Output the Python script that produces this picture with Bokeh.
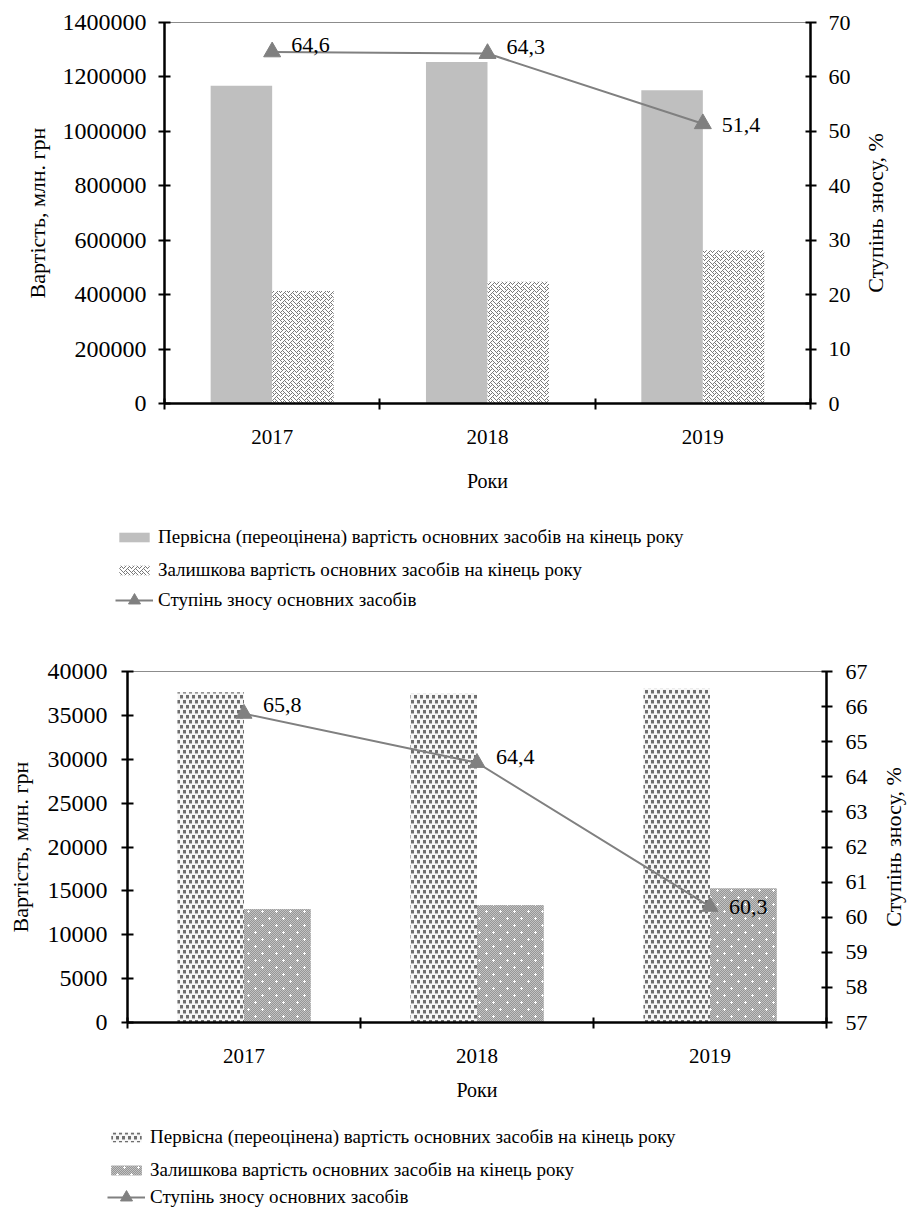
import base64
import math

from bokeh.core.properties import value
from bokeh.embed import file_html
from bokeh.models import (ColumnDataSource, FixedTicker, ImageURLTexture, Label, Legend,
                          LegendItem, LinearAxis, NumeralTickFormatter, Range1d)
from bokeh.plotting import figure
from bokeh.resources import INLINE
from bokeh.transform import dodge

# ---------------------------------------------------------------- data
YEARS = ["2017", "2018", "2019"]

# chart 1
GROSS_1 = [1168000, 1255000, 1151000]
RESIDUAL_1 = [413000, 447000, 563000]
WEAR_1 = [64.6, 64.3, 51.4]
Y_TICKS_1 = [0, 200000, 400000, 600000, 800000, 1000000, 1200000, 1400000]
Y2_TICKS_1 = [0, 10, 20, 30, 40, 50, 60, 70]

# chart 2
GROSS_2 = [37640, 37460, 38030]
RESIDUAL_2 = [12900, 13360, 15260]
WEAR_2 = [65.8, 64.4, 60.3]
Y_TICKS_2 = [0, 5000, 10000, 15000, 20000, 25000, 30000, 35000, 40000]
Y2_TICKS_2 = [57, 58, 59, 60, 61, 62, 63, 64, 65, 66, 67]

LEGEND_LABELS = [
    "Первісна (переоцінена) вартість основних засобів на кінець року",
    "Залишкова вартість основних засобів на кінець року",
    "Ступінь зносу основних засобів",
]
Y_TITLE = "Вартість, млн. грн"
Y2_TITLE = "Ступінь зносу, %"
X_TITLE = "Роки"

# ---------------------------------------------------------------- styles
FONT = "Liberation Serif"
GREY = "#808080"
BAR_W = 1 / 3.5          # two bars plus a 150 % gap per category


def tile(rows, palette, background=None):
    """Pixel pattern packed as an SVG data URL for a hatch texture."""
    h, w = len(rows), len(rows[0])
    parts = []
    if background:
        parts.append(f'<rect width="{w}" height="{h}" fill="{background}"/>')
    for yy, row in enumerate(rows):
        for xx, ch in enumerate(row):
            if ch in palette:
                parts.append(f'<rect x="{xx}" y="{yy}" width="1" height="1" fill="{palette[ch]}"/>')
    svg = (f'<svg xmlns="http://www.w3.org/2000/svg" width="{w}" height="{h}" '
           f'shape-rendering="crispEdges">{"".join(parts)}</svg>')
    return ImageURLTexture(url="data:image/svg+xml;base64," + base64.b64encode(svg.encode()).decode())


# weave: grey zig-zag threads on white
WEAVE = tile([format(b, "08b") for b in (0x88, 0x54, 0x22, 0x45, 0x88, 0x14, 0x22, 0x51)],
             {"1": "#7a7a7a"})

# staggered dark blocks on white
BLOCKS = tile([
    "111...",
    "111...",
    "111...",
    "bbb...",
    "......",
    "...111",
    "...111",
    "...111",
    "...bbb",
    "......",
], {"1": "#6e6e6e", "b": "#b4b4b4"}, background="#f6f6f6")

# fine grey checker with white sparkles
_rows = []
for yy in range(14):
    row = ""
    for xx in range(14):
        plus_a = (xx, yy) in {(3, 3), (2, 3), (4, 3), (3, 2), (3, 4)}
        plus_b = (xx, yy) in {(10, 10), (9, 10), (11, 10), (10, 9), (10, 11)}
        row += "w" if (plus_a or plus_b) else ("g" if (xx + yy) % 2 == 0 else "l")
    _rows.append(row)
SPARKLE = tile(_rows, {"w": "#ffffff", "g": "#969696", "l": "#c2c2c2"})

STYLE_1 = dict(
    gross=dict(fill_color="#bfbfbf"),
    resid=dict(fill_color="white", hatch_pattern=value("weave"), hatch_extra={"weave": WEAVE}),
)
STYLE_2 = dict(
    gross=dict(fill_color="white", hatch_pattern=value("blocks"), hatch_extra={"blocks": BLOCKS}),
    resid=dict(fill_color="#b0b0b0", hatch_pattern=value("sparkle"),
               hatch_extra={"sparkle": SPARKLE}),
)


def style_axis(ax, tick_font, label_font, tick_in, tick_out, standoff, title_standoff):
    ax.axis_line_color = "black"
    ax.axis_line_width = 2.5
    ax.major_tick_line_color = "black"
    ax.major_tick_line_width = 2
    ax.major_tick_in = tick_in
    ax.major_tick_out = tick_out
    ax.minor_tick_line_color = None
    ax.major_label_text_font = FONT
    ax.major_label_text_font_size = tick_font
    ax.major_label_text_color = "black"
    ax.major_label_standoff = standoff
    ax.axis_label_text_font = FONT
    ax.axis_label_text_font_size = label_font
    ax.axis_label_text_font_style = "normal"
    ax.axis_label_text_color = "black"
    ax.axis_label_standoff = title_standoff


def build_chart(gross, resid, wear, y_ticks, y2_ticks, style, cfg):
    n = len(YEARS)
    centers = [i + 0.5 for i in range(n)]
    src = ColumnDataSource(dict(
        x=centers, gross=gross, resid=resid, wear=wear,
        label=[f"{v:.1f}".replace(".", ",") for v in wear],
        dy=cfg["label_dy"],
    ))

    p = figure(width=907, height=cfg["height"],
               x_range=Range1d(0, n), y_range=Range1d(y_ticks[0], y_ticks[-1]),
               x_axis_type=None, y_axis_type=None,
               output_backend="svg", toolbar_location=None,
               min_border_left=cfg["left"], min_border_right=cfg["right"],
               min_border_top=cfg["top"], min_border_bottom=cfg["bottom"])
    p.background_fill_color = "white"
    p.border_fill_color = "white"
    p.outline_line_color = "#8c8c8c"
    p.outline_line_width = 1
    p.extra_y_ranges = {"pct": Range1d(y2_ticks[0], y2_ticks[-1])}

    p.vbar(x=dodge("x", -BAR_W / 2), top="gross", width=BAR_W, source=src,
           line_color=None, **style["gross"])
    p.vbar(x=dodge("x", BAR_W / 2), top="resid", width=BAR_W, source=src,
           line_color=None, **style["resid"])
    p.line(x="x", y="wear", source=src, y_range_name="pct",
           line_color=GREY, line_width=2)
    p.scatter(x="x", y="wear", source=src, y_range_name="pct",
              marker="triangle", size=cfg["marker"], fill_color=GREY, line_color=GREY)
    p.text(x="x", y="wear", text="label", source=src, y_range_name="pct",
           x_offset=19, y_offset="dy", text_align="left", text_baseline="middle",
           text_font=value(FONT), text_font_size="22px", text_color="black")

    ax_l = LinearAxis(ticker=FixedTicker(ticks=y_ticks),
                      formatter=NumeralTickFormatter(format="0"), axis_label=Y_TITLE)
    style_axis(ax_l, "24px", "22px", 6, 6, cfg["l_standoff"], cfg["l_title"])
    p.add_layout(ax_l, "left")

    # wear-rate axis; its title is set separately so it reads bottom-to-top
    ax_r = LinearAxis(y_range_name="pct", ticker=FixedTicker(ticks=y2_ticks))
    style_axis(ax_r, "22px", "22px", 5, 6, cfg["r_standoff"], 0)
    p.add_layout(ax_r, "right")

    # category axis: ticks between the years, year labels at the centres
    ax_b = LinearAxis(ticker=FixedTicker(ticks=centers, minor_ticks=list(range(n + 1))),
                      major_label_overrides={c: y for c, y in zip(centers, YEARS)},
                      axis_label=X_TITLE)
    style_axis(ax_b, "21px", "20px", 0, 0, cfg["b_standoff"], cfg["b_title"])
    ax_b.major_tick_line_color = None
    ax_b.minor_tick_line_color = "black"
    ax_b.minor_tick_line_width = 2
    ax_b.minor_tick_in = 5
    ax_b.minor_tick_out = 6
    p.add_layout(ax_b, "below")
    return p, src


def build_right_title(cfg):
    """Vertical title of the wear-rate axis, placed beside the chart."""
    p = figure(width=cfg["width"], height=cfg["height"], x_range=Range1d(0, 1),
               y_range=Range1d(0, 1), x_axis_type=None, y_axis_type=None,
               output_backend="svg", toolbar_location=None, min_border=0,
               outline_line_color=None, background_fill_alpha=0, border_fill_alpha=0,
               styles={"position": "absolute", "left": f"{cfg['left']}px",
                       "top": f"{cfg['top']}px"})
    p.grid.visible = False
    p.add_layout(Label(x=0.5, y=0.5, text=Y2_TITLE, angle=math.pi / 2,
                       text_align="center", text_baseline="middle",
                       text_font=FONT, text_font_size="22px", text_color="black"))
    return p


def build_legend(src, style, cfg):
    """Legend strip under a chart; hidden copies of the series supply the swatches."""
    p = figure(width=907, height=cfg["height"], x_range=Range1d(0, 1), y_range=Range1d(0, 1),
               x_axis_type=None, y_axis_type=None, output_backend="svg",
               toolbar_location=None, min_border=0, outline_line_color=None)
    p.grid.visible = False
    r_g = p.vbar(x="x", top="gross", width=BAR_W, source=src, line_color=None,
                 visible=False, **style["gross"])
    r_r = p.vbar(x="x", top="resid", width=BAR_W, source=src, line_color=None,
                 visible=False, **style["resid"])
    r_l = p.line(x="x", y="wear", source=src, line_color=GREY, line_width=2, visible=False)
    r_m = p.scatter(x="x", y="wear", source=src, marker="triangle",
                    fill_color=GREY, line_color=GREY, visible=False)

    common = dict(padding=0, margin=0, border_line_color=None,
                  background_fill_alpha=0, inactive_fill_alpha=0, label_text_font=FONT,
                  label_text_font_size="19px", label_text_color="black",
                  label_standoff=5, glyph_width=38, orientation="vertical")
    leg_bars = Legend(items=[LegendItem(label=LEGEND_LABELS[0], renderers=[r_g]),
                             LegendItem(label=LEGEND_LABELS[1], renderers=[r_r])],
                      location=cfg["bars"], glyph_height=12, label_height=21,
                      spacing=11, **common)
    leg_line = Legend(items=[LegendItem(label=LEGEND_LABELS[2], renderers=[r_l, r_m])],
                      location=cfg["line"], glyph_height=30, label_height=30, **common)
    p.add_layout(leg_bars)
    p.add_layout(leg_line)
    return p


chart_1, src_1 = build_chart(GROSS_1, RESIDUAL_1, WEAR_1, Y_TICKS_1, Y2_TICKS_1, STYLE_1, dict(
    height=500, left=164, right=97, top=22, bottom=97,
    marker=17, label_dy=[-7, -7, 1],
    l_standoff=12, l_title=10, r_standoff=12,
    b_standoff=20, b_title=23,
))
legend_1 = build_legend(src_1, STYLE_1, dict(height=135, bars=(115, 54), line=(115, 20)))
title_1 = build_right_title(dict(left=855, top=22, width=40, height=381))

chart_2, src_2 = build_chart(GROSS_2, RESIDUAL_2, WEAR_2, Y_TICKS_2, Y2_TICKS_2, STYLE_2, dict(
    height=475, left=127, right=81, top=36, bottom=88,
    marker=16, label_dy=[-9, -6, 0],
    l_standoff=14, l_title=12, r_standoff=13,
    b_standoff=20, b_title=13,
))
legend_2 = build_legend(src_2, STYLE_2, dict(height=106, bars=(107, 35), line=(107, 4)))
title_2 = build_right_title(dict(left=879, top=671, width=28, height=351))

with open("out.html", "w") as f:
    f.write(file_html([chart_1, legend_1, chart_2, legend_2, title_1, title_2],
                      INLINE, "Основні засоби"))
